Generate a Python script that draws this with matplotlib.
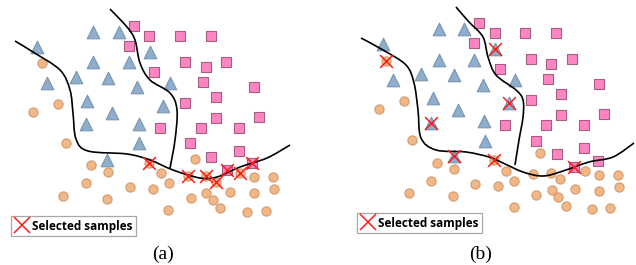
import numpy as np
import matplotlib
matplotlib.use("Agg")
from matplotlib import pyplot as plt
from matplotlib.path import Path
from matplotlib.patches import PathPatch
from matplotlib.lines import Line2D

# ---- panel (a) samples (x, y in picture units, y grows downward)
a_tri_x = [93, 119, 37, 93, 129, 150, 76, 108, 47, 137, 170, 87, 163, 112, 86, 139, 139, 107]
a_tri_y = [32, 32, 47, 62, 62, 52, 77, 78, 83, 87, 83, 101, 106, 113, 124, 124, 143, 160]
a_sq_x = [134, 149, 180, 211, 129, 185, 206, 226, 154, 203, 254, 216, 185, 216, 259, 160, 201, 239, 190, 239, 211, 227, 252]
a_sq_y = [26, 36, 36, 36, 46, 62, 67, 62, 72, 82, 87, 97, 103, 118, 117, 128, 128, 128, 143, 151, 157, 170, 163]
a_circ_x = [42, 58, 33, 66, 91, 108, 86, 63, 107, 130, 153, 161, 169, 195, 168, 191, 206, 213, 220, 230, 240,
            254, 273, 254, 274, 247, 266, 188, 206, 216, 149]
a_circ_y = [63, 104, 112, 143, 165, 172, 183, 196, 199, 187, 189, 173, 183, 159, 210, 198, 193, 200, 208, 192, 173,
            177, 177, 193, 189, 212, 211, 176, 176, 182, 163]
a_sel_x = [149, 188, 206, 216, 227, 240, 252]
a_sel_y = [163, 176, 176, 182, 170, 173, 163]
a_curve1 = [(15, 41), (33, 52), (60, 70), (70, 90), (73, 113), (76, 139), (88, 151), (127, 154), (150, 160),
            (173, 170), (200, 178), (217, 177), (240, 167), (267, 158), (290, 145)]
a_curve2 = [(110, 9), (127, 27), (135, 40), (140, 63), (150, 80), (170, 93), (177, 110), (175, 140), (170, 168)]

# ---- panel (b) samples
b_tri_x = [439, 464, 383, 439, 474, 495, 421, 454, 393, 483, 515, 433, 458, 509, 431, 484, 485, 454]
b_tri_y = [29, 29, 44, 60, 60, 49, 74, 75, 80, 85, 80, 98, 110, 103, 123, 121, 141, 156]
b_sq_x = [479, 495, 525, 556, 474, 531, 551, 572, 500, 548, 599, 561, 531, 561, 604, 505, 546, 584, 536, 584, 557, 598, 574]
b_sq_y = [23, 33, 33, 33, 43, 59, 64, 59, 69, 79, 84, 94, 100, 115, 114, 125, 125, 125, 141, 148, 154, 161, 167]
b_circ_x = [386, 404, 379, 412, 437, 454, 431, 409, 453, 475, 494, 498, 506, 514, 514, 533, 540, 536, 551, 560,
            552, 558, 566, 575, 585, 599, 618, 599, 619, 592, 610]
b_circ_y = [61, 101, 109, 140, 163, 169, 181, 193, 196, 184, 160, 186, 171, 181, 207, 174, 153, 195, 173, 179,
            190, 197, 206, 189, 171, 175, 175, 191, 187, 209, 208]
b_sel_x = [386, 495, 509, 431, 454, 494, 574]
b_sel_y = [61, 49, 103, 123, 156, 160, 167]
b_curve1 = [(361, 38), (383, 50), (406, 65), (414, 83), (418, 110), (421, 138), (436, 150), (466, 152), (489, 157),
            (503, 163), (523, 172), (543, 176), (563, 171), (589, 162), (613, 157), (634, 143)]
b_curve2 = [(456, 7), (469, 22), (483, 37), (488, 57), (496, 75), (516, 90), (523, 100), (523, 117), (519, 140), (515, 165)]

captions = ["(a)", "(b)"]
legend_label = "Selected samples"

TRI = dict(c="#8FAECB", edgecolors="#7896B4", marker="^", s=82, linewidths=0.8)
SQ = dict(c="#FF85C2", edgecolors="#A45F7E", marker="s", s=58, linewidths=0.8)
CIRC = dict(c="#F2B786", edgecolors="#D29C70", marker="o", s=44, linewidths=0.8)
SEL = dict(c="#FF1A1A", marker="x", s=85, linewidths=1.1)


def smooth_path(pts):
    # catmull-rom through the boundary points, handed to matplotlib as cubic beziers
    p = np.array(pts, dtype=float)
    p = np.vstack([p[0], p, p[-1]])
    verts = [tuple(p[1])]
    codes = [Path.MOVETO]
    for i in range(1, len(p) - 2):
        c1 = p[i] + (p[i + 1] - p[i - 1]) / 6
        c2 = p[i + 1] - (p[i + 2] - p[i]) / 6
        verts += [tuple(c1), tuple(c2), tuple(p[i + 1])]
        codes += [Path.CURVE4] * 3
    return Path(verts, codes)


def draw_panel(ax, tri, sq, circ, sel, curves, caption, xlo):
    ax.set_xlim(xlo, xlo + 318)
    ax.set_ylim(265, 0)
    ax.axis("off")
    ax.scatter(*circ, zorder=2, **CIRC)
    ax.scatter(*tri, zorder=2, **TRI)
    ax.scatter(*sq, zorder=2, **SQ)
    for c in curves:
        ax.add_patch(PathPatch(smooth_path(c), fill=False, lw=1.2, ec="black", zorder=3))
    ax.scatter(*sel, zorder=4, **SEL)
    ax.text(xlo + 163, 254, caption, ha="center", va="center", fontsize=14, family="Liberation Serif")


fig = plt.figure(figsize=(6.36, 2.65), dpi=100)
axa = fig.add_axes([0, 0, 0.5, 1])
axb = fig.add_axes([0.5, 0, 0.5, 1])

draw_panel(axa, (a_tri_x, a_tri_y), (a_sq_x, a_sq_y), (a_circ_x, a_circ_y), (a_sel_x, a_sel_y),
           [a_curve1, a_curve2], captions[0], 0)
draw_panel(axb, (b_tri_x, b_tri_y), (b_sq_x, b_sq_y), (b_circ_x, b_circ_y), (b_sel_x, b_sel_y),
           [b_curve1, b_curve2], captions[1], 318)

handle = Line2D([], [], ls="none", marker="x", color="#FF1A1A", markersize=12, markeredgewidth=1.1)
for ax, anchor in [(axa, (11, 216)), (axb, (357, 213))]:
    leg = ax.legend([handle], [legend_label], loc="upper left", bbox_to_anchor=anchor,
                    bbox_transform=ax.transData, borderaxespad=0, fancybox=False,
                    edgecolor="#A8A8A8", framealpha=1, handlelength=1.2, handletextpad=0.25,
                    borderpad=0.3, prop=dict(family="Open Sans", weight="bold", size=8.5))
    leg.get_frame().set_linewidth(0.9)

fig.savefig("out.png", dpi=100)
